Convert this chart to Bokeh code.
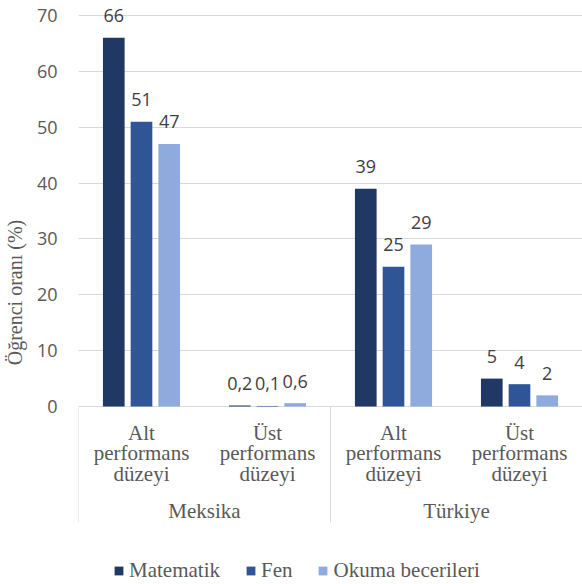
import math
from bokeh.plotting import figure
from bokeh.models import (FactorRange, ColumnDataSource, FixedTicker, Legend, LegendItem,
                          Range1d)
from bokeh.transform import dodge
from bokeh.core.properties import value
from bokeh.embed import file_html
from bokeh.resources import INLINE

countries = ["Meksika", "Türkiye"]
levels = ["Alt", "Üst"]
level_labels = ["Alt\nperformans\ndüzeyi", "Üst\nperformans\ndüzeyi"]
series = ["Matematik", "Fen", "Okuma becerileri"]
matematik = [66, 0.2, 39, 5]
fen = [51, 0.1, 25, 4]
okuma = [47, 0.6, 29, 2]
y_ticks = [0, 10, 20, 30, 40, 50, 60, 70]

colors = ["#203864", "#2F5597", "#8FAADC"]
GRID = "#D9D9D9"
SERIF = "Liberation Serif"
SANS = "Open Sans"

factors = [(c, l) for c in countries for l in levels]

def fmt(v):
    return ("%g" % v).replace(".", ",")

data = dict(x=factors, Matematik=matematik, Fen=fen, Okuma=okuma)
for key, vals in (("Matematik", matematik), ("Fen", fen), ("Okuma", okuma)):
    data[key + "_lbl"] = [fmt(v) for v in vals]
src = ColumnDataSource(data)

x_range = FactorRange(*factors, range_padding=0, group_padding=0, factor_padding=0,
                      subgroup_padding=0)
y_range = Range1d(-31.86, 72.685)

p = figure(width=582, height=584, x_range=x_range, y_range=y_range,
           output_backend="svg", toolbar_location=None, x_axis_location=None,
           min_border_left=76, min_border_right=0, min_border_top=0, min_border_bottom=0)
p.outline_line_color = None
p.background_fill_color = "white"
p.border_fill_color = "white"

# y axis
p.yaxis.ticker = FixedTicker(ticks=y_ticks)
p.yaxis.bounds = (y_ticks[0], y_ticks[-1])
p.yaxis.axis_line_color = None
p.yaxis.major_tick_line_color = None
p.yaxis.minor_tick_line_color = None
p.yaxis.major_label_text_font = SANS
p.yaxis.major_label_text_font_size = "18px"
p.yaxis.major_label_text_color = "#595959"
p.yaxis.major_label_standoff = 15
p.yaxis.axis_label = "Öğrenci oranı (%)"
p.yaxis.axis_label_text_font = SERIF
p.yaxis.axis_label_text_font_style = "normal"
p.yaxis.axis_label_text_font_size = "20px"
p.yaxis.axis_label_text_color = "#595959"
p.yaxis.axis_label_standoff = 8
p.xgrid.visible = False
p.ygrid.grid_line_color = GRID
p.ygrid.grid_line_width = 1

offsets = [-0.22, 0.0, 0.22]
keys = ["Matematik", "Fen", "Okuma"]
items = []
for key, name, off, col in zip(keys, series, offsets, colors):
    r = p.vbar(x=dodge("x", off, range=p.x_range), top=key, width=0.172, source=src,
               fill_color=col, line_color=None)
    items.append(LegendItem(label=name, renderers=[r]))
    p.text(x=dodge("x", off, range=p.x_range), y=key, text=key + "_lbl", source=src,
           text_align="center", text_baseline="alphabetic", y_offset=-22,
           text_font=value(SANS), text_font_size="18px", text_color="#404040")

# category axis drawn in frame
sep_src = ColumnDataSource(dict(
    x=[(c, levels[0], -0.5) for c in countries],
    y0=[0] * len(countries), y1=[-20.75] * len(countries)))
p.segment(x0="x", y0="y0", x1="x", y1="y1", source=sep_src, line_color=GRID, line_width=1)

lvl_src = ColumnDataSource(dict(x=factors, y=[0] * len(factors),
                                t=[level_labels[levels.index(l)] for c, l in factors]))
p.text(x="x", y="y", text="t", source=lvl_src, text_align="center", text_baseline="top",
       y_offset=14, text_font=value(SERIF), text_font_size="21px", text_color="#595959",
       text_line_height=0.86)
cty_src = ColumnDataSource(dict(x=countries, y=[0] * len(countries), t=countries))
p.text(x="x", y="y", text="t", source=cty_src, text_align="center", text_baseline="middle",
       y_offset=104, text_font=value(SERIF), text_font_size="21px",
       text_color="#595959")

legend = Legend(items=items, orientation="horizontal", location=(35, 1),
                glyph_width=11, glyph_height=11, label_standoff=5, spacing=25,
                padding=0, margin=0, border_line_color=None, background_fill_alpha=0,
                label_text_font=SERIF, label_text_font_size="21px",
                label_text_color="#595959", label_height=16)
p.add_layout(legend)

open("out.html", "w").write(file_html(p, INLINE))
